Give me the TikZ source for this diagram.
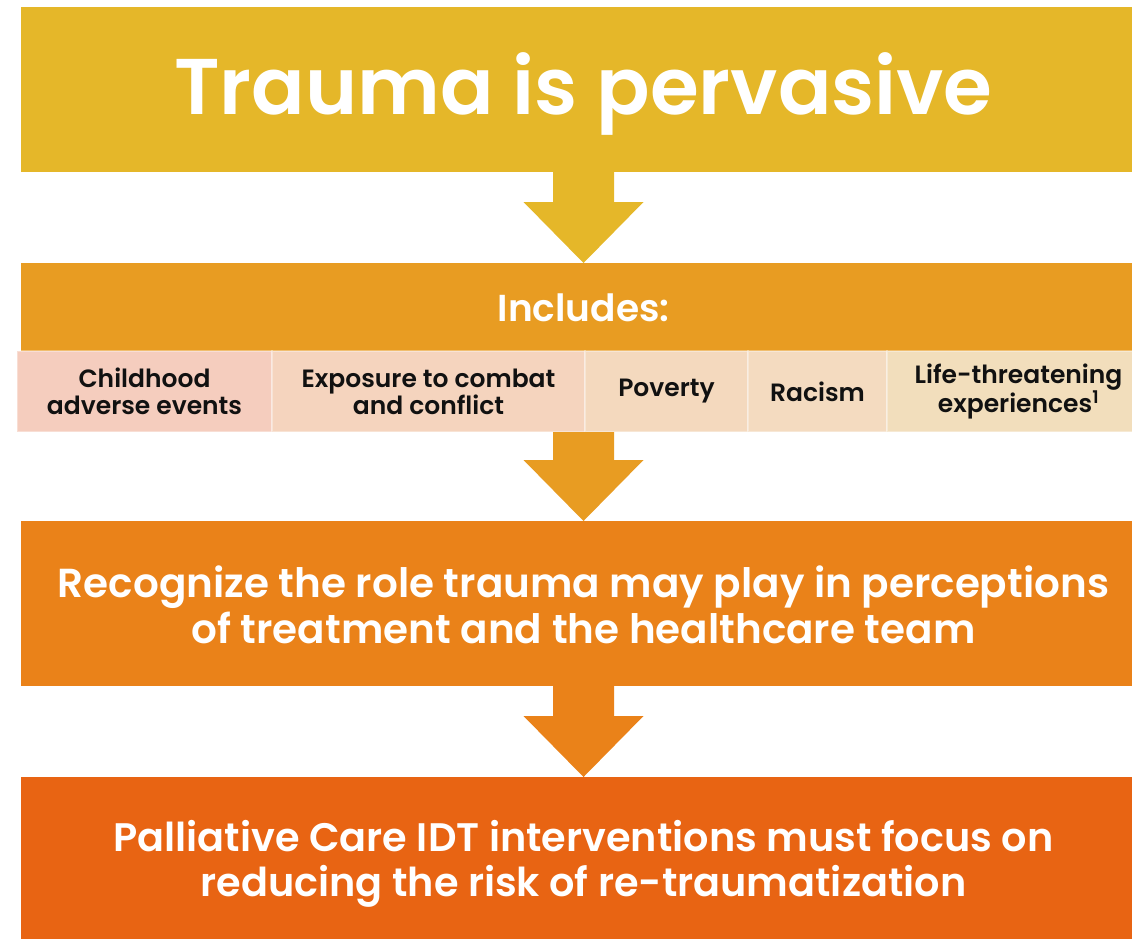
\documentclass[tikz,border=0pt]{standalone}
\usepackage{fontspec}
\setmainfont{Poppins}[BoldFont={Poppins SemiBold}]
\newfontfamily\cellfont{Poppins}[UprightFont={Poppins SemiBold}]
\usetikzlibrary{calc}
\definecolor{cgold}{HTML}{E5B729}
\definecolor{chead}{HTML}{E89C22}
\definecolor{cthree}{HTML}{EA8219}
\definecolor{cfour}{HTML}{E86413}
\definecolor{cellA}{HTML}{F5CDBE}
\definecolor{cellB}{HTML}{F5D4BE}
\definecolor{cellC}{HTML}{F4D9BE}
\definecolor{cellD}{HTML}{F4DBC0}
\definecolor{cellE}{HTML}{F2DEBC}
\definecolor{celltext}{HTML}{111111}
\newcommand{\blockarrow}[3]{%
  \fill[#1] ($(#2)+(-30.5,0)$) -- ($(#2)+(30.5,0)$) -- ($(#3)+(30.5,-61)$)
    -- ($(#3)+(60,-61)$) -- (#3) -- ($(#3)+(-60,-61)$) -- ($(#3)+(-30.5,-61)$) -- cycle;}
\begin{document}
\begin{tikzpicture}[x=1pt,y=-1pt,
  bigbox/.style={rectangle, minimum width=1125pt, minimum height=#1, inner sep=0pt,
    outer sep=0pt, anchor=north},
  boxtext/.style={inner sep=0pt, text=white, align=center},
  cellbox/.style={rectangle, minimum height=81pt, inner sep=0pt, outer sep=0pt,
    anchor=north west, draw=white, draw opacity=0.35, line width=2pt, text=celltext,
    align=center, font=\cellfont\fontsize{25}{27}\selectfont},
]
\useasboundingbox (0,0) rectangle (1132,938);
\clip (0,0) rectangle (1132,938);
\node[bigbox=165pt, fill=cgold] (b1) at (583.5,7) {};
\node[bigbox=88pt, fill=chead] (b2) at (583.5,263) {};
\node[bigbox=165pt, fill=cthree] (b3) at (583.5,521) {};
\node[bigbox=166pt, fill=cfour] (b4) at (583.5,777) {};
\node[boxtext, font=\bfseries\fontsize{79}{86}\selectfont] (t1) at ($(b1.center)+(0,4)$) {Trauma is pervasive};
\node[boxtext, font=\bfseries\fontsize{37.5}{42}\selectfont] (t2) at ($(b2.center)+(0,1)$) {Includes:};
\node[boxtext, font=\bfseries\fontsize{40.5}{46}\selectfont] (t3) at ($(b3.center)+(0,1)$) {Recognize the role trauma may play in perceptions\\of treatment and the healthcare team};
\node[boxtext, font=\bfseries\fontsize{39.8}{45}\selectfont] (t4) at ($(b4.center)+(0,4)$) {Palliative Care IDT interventions must focus on\\reducing the risk of re-traumatization};
\node[cellbox, fill=cellA, minimum width=255pt] (c1) at (17,351) {Childhood\\adverse events};
\node[cellbox, fill=cellB, minimum width=313pt] (c2) at (c1.north east) {Exposure to combat\\and conflict};
\node[cellbox, fill=cellC, minimum width=163pt] (c3) at (c2.north east) {Poverty};
\node[cellbox, fill=cellD, minimum width=139pt] (c4) at (c3.north east) {Racism};
\node[cellbox, fill=cellE, minimum width=263pt] (c5) at (c4.north east) {Life-threatening\\experiences\textsuperscript{1}};
\coordinate (rowbot) at (b1.south |- c1.south);
\blockarrow{cgold}{b1.south}{b2.north}
\blockarrow{chead}{rowbot}{b3.north}
\blockarrow{cthree}{b3.south}{b4.north}
\end{tikzpicture}
\end{document}
